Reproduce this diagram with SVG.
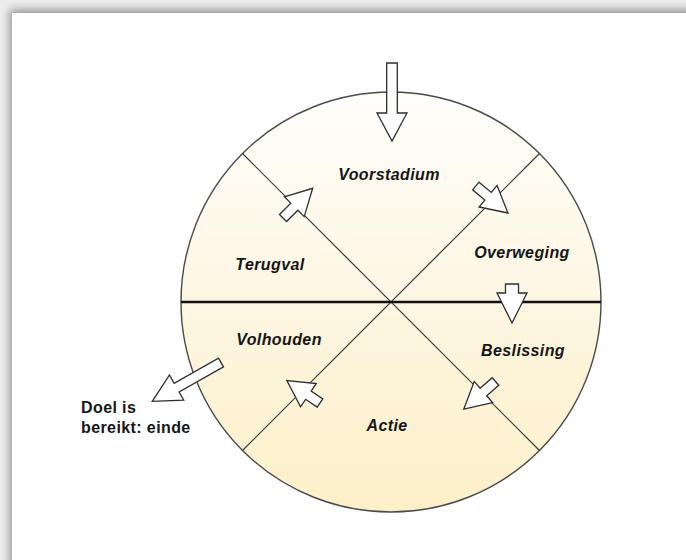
<svg xmlns="http://www.w3.org/2000/svg" width="686" height="560" viewBox="0 0 686 560">
  <defs>
    <linearGradient id="fillGrad" x1="0" y1="0" x2="0" y2="1">
      <stop offset="0" stop-color="#fffefb"/>
      <stop offset="0.5" stop-color="#fdf6e2"/>
      <stop offset="1" stop-color="#fdf0c8"/>
    </linearGradient>
    <filter id="shadow" x="-10%" y="-10%" width="120%" height="120%">
      <feGaussianBlur stdDeviation="5"/>
    </filter>
    <style>
      .lbl { font-family: "Liberation Sans", Arial, sans-serif; font-size: 16px; font-weight: bold; font-style: italic; fill: #151515; text-anchor: middle; letter-spacing: 0.4px; }
      .note { font-family: "Liberation Sans", Arial, sans-serif; font-size: 16px; font-weight: bold; fill: #151515; letter-spacing: 0.4px; }
      .arrow { fill: #ffffff; stroke: #2e2e2e; stroke-width: 1.3; stroke-linejoin: miter; }
      .div { stroke: #3a3a3a; stroke-width: 1.2; fill: none; }
    </style>
  </defs>

  <!-- page background and card with shadow -->
  <rect x="0" y="0" width="686" height="560" fill="#ececec"/>
  <rect x="10" y="10" width="720" height="600" fill="#000000" opacity="0.4" filter="url(#shadow)"/>
  <rect x="12" y="13" width="720" height="600" fill="#ffffff"/>

  <!-- wheel -->
  <g id="wheel">
    <circle cx="391" cy="302" r="210" fill="url(#fillGrad)" stroke="#4a4a4a" stroke-width="1.4"/>
    <line class="div" x1="242.5" y1="153.5" x2="539.5" y2="450.5"/>
    <line class="div" x1="539.5" y1="153.5" x2="242.5" y2="450.5"/>
    <line x1="181" y1="302" x2="601" y2="302" stroke="#111111" stroke-width="2.6"/>
  </g>

  <g id="voorstadium"><text class="lbl" x="389" y="180">Voorstadium</text></g>
  <g id="overweging"><text class="lbl" x="522" y="258">Overweging</text></g>
  <g id="beslissing"><text class="lbl" x="523" y="356">Beslissing</text></g>
  <g id="actie"><text class="lbl" x="387" y="431">Actie</text></g>
  <g id="volhouden"><text class="lbl" x="279" y="345">Volhouden</text></g>
  <g id="terugval"><text class="lbl" x="270" y="270">Terugval</text></g>
  <g id="einde">
    <text class="note" x="81" y="413">Doel is</text>
    <text class="note" x="81" y="433">bereikt: einde</text>
  </g>

  <g id="connectors">
    <!-- entry arrow -->
    <path class="arrow" d="M0,-5.3 H50 V-15 L78,0 L50,15 V5.3 H0 Z" transform="translate(392,63) rotate(90)"/>
    <!-- Overweging to Beslissing -->
    <path class="arrow" d="M0,-6.5 H9 V-15 L39,0 L9,15 V6.5 H0 Z" transform="translate(512,284) rotate(90)"/>
    <!-- Voorstadium to Overweging -->
    <path class="arrow" d="M0,-5 H16 V-14 L42,0 L16,14 V5 H0 Z" transform="translate(475.8,186) rotate(40)"/>
    <!-- Beslissing to Actie -->
    <path class="arrow" d="M0,-5 H16 V-14 L42,0 L16,14 V5 H0 Z" transform="translate(495.5,381.5) rotate(139)"/>
    <!-- Actie to Volhouden -->
    <path class="arrow" d="M0,-5 H14 V-14 L40,0 L14,14 V5 H0 Z" transform="translate(320,403) rotate(214)"/>
    <!-- Terugval to Voorstadium -->
    <path class="arrow" d="M0,-5 H16 V-14 L42,0 L16,14 V5 H0 Z" transform="translate(283,218) rotate(-45)"/>
    <!-- exit arrow -->
    <path class="arrow" d="M0,-5 H51 V-14.5 L79,0 L51,14.5 V5 H0 Z" transform="translate(221,362.5) rotate(150.5)"/>
  </g>
</svg>
